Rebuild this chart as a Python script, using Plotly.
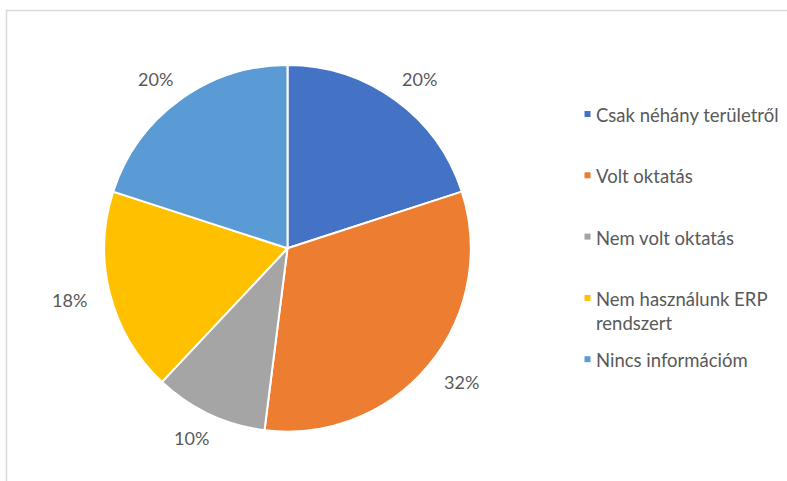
import math
import plotly.graph_objects as go

# Survey answers and their shares (%)
categories = [
    "Csak néhány területről",
    "Volt oktatás",
    "Nem volt oktatás",
    "Nem használunk ERP<br>rendszert",
    "Nincs információm",
]
shares = [20, 32, 10, 18, 20]
colors = ["#4472C4", "#ED7D31", "#A5A5A5", "#FFC000", "#5B9BD5"]

W, H = 787, 481
FONT = "Lato, 'Open Sans', sans-serif"
TEXT_COLOR = "#595959"

# pie geometry in pixels
cx, cy, r = 287.5, 248.3, 183.3

def px_x(x):
    return x / W

def px_y(y):
    return 1 - y / H

fig = go.Figure(
    go.Pie(
        labels=categories,
        values=shares,
        sort=False,
        direction="clockwise",
        rotation=0,
        marker=dict(colors=colors, line=dict(color="white", width=2)),
        textinfo="none",
        hoverinfo="label+percent",
        showlegend=False,
        domain=dict(x=[px_x(cx - r), px_x(cx + r)], y=[px_y(cy + r), px_y(cy - r)]),
    )
)

# percentage labels outside each slice, placed along the slice's mid-angle
total = sum(shares)
acc = 0
label_gap = 24
tw, th = 36, 5
for v in shares:
    mid = (acc + v / 2) / total * 2 * math.pi
    acc += v
    dx, dy = math.sin(mid), -math.cos(mid)
    x = cx + dx * (r + label_gap) + dx * tw / 2
    y = cy + dy * (r + label_gap) + dy * th / 2
    fig.add_annotation(
        x=px_x(x), y=px_y(y), xref="paper", yref="paper",
        text=f"{round(v / total * 100)}%", showarrow=False,
        xanchor="center", yanchor="middle",
        font=dict(family=FONT, size=18, color=TEXT_COLOR),
    )

# legend on the right, entries spread evenly
leg_x, leg_y0, leg_step = 587.5, 114, 61.3
for i, (name, col) in enumerate(zip(categories, colors)):
    yy = leg_y0 + i * leg_step
    fig.add_shape(
        type="rect", xref="paper", yref="paper",
        x0=px_x(leg_x - 3), x1=px_x(leg_x + 3),
        y0=px_y(yy + 3), y1=px_y(yy - 3),
        fillcolor=col, line=dict(width=0),
    )
    fig.add_annotation(
        x=px_x(leg_x + 6), y=px_y(yy - 12), xref="paper", yref="paper",
        text=name, showarrow=False, align="left",
        xanchor="left", yanchor="top",
        font=dict(family=FONT, size=18.5, color=TEXT_COLOR),
    )

# chart area frame
fig.add_shape(
    type="rect", xref="paper", yref="paper",
    x0=px_x(6.5), x1=px_x(W + 10), y0=px_y(H + 10), y1=px_y(10.5),
    line=dict(color="#D9D9D9", width=1.5), fillcolor="rgba(0,0,0,0)",
)

fig.update_layout(
    width=W, height=H,
    margin=dict(l=0, r=0, t=0, b=0),
    paper_bgcolor="white",
    plot_bgcolor="white",
    showlegend=False,
)

fig.write_html("out.html")
